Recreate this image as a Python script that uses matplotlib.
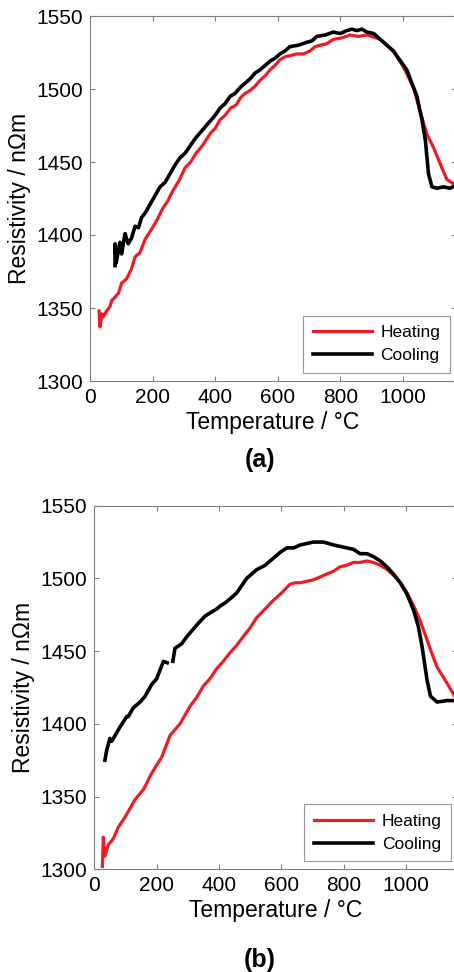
#!/usr/bin/env python3
""" resistivity vs temperature, heating and cooling, two panels """
import matplotlib.pyplot as plt

plt.rcParams['font.family'] = ['Liberation Sans', 'DejaVu Sans']

nan = float('nan')

# panel (a)
heat_a_t = [29, 32, 38, 43, 53, 64, 69, 91, 101, 117, 133, 144, 160, 176, 200, 216, 232,
            248, 264, 284, 304, 322, 339, 355, 371, 386, 400, 416, 432, 450, 467, 481, 496,
            512, 528, 544, 560, 575, 591, 607, 623, 642, 661, 682, 703, 720, 736, 757, 778,
            805, 832, 858, 885, 928, 970, 1002, 1034, 1055, 1077, 1098, 1119, 1141, 1170]
heat_a_r = [1348, 1337, 1346, 1344, 1348, 1351, 1355, 1360, 1367, 1370, 1377, 1385, 1388,
            1397, 1405, 1411, 1418, 1423, 1430, 1437, 1446, 1450, 1456, 1460, 1465, 1470,
            1473, 1479, 1482, 1487, 1489, 1494, 1497, 1499, 1502, 1506, 1509, 1513, 1516,
            1520, 1522, 1523, 1524, 1524, 1526, 1529, 1530, 1531, 1534, 1535, 1537, 1536,
            1537, 1534, 1526, 1515, 1501, 1485, 1469, 1460, 1449, 1438, 1434]
cool_a_t = [80, 80, 84, 91, 96, 101, 112, 122, 133, 144, 155, 165, 176, 192, 208, 224, 240,
            256, 272, 288, 304, 320, 336, 352, 368, 384, 400, 416, 432, 448, 464, 480, 496,
            512, 528, 543, 559, 575, 591, 607, 623, 639, 666, 693, 710, 725, 752, 778, 800,
            821, 837, 853, 869, 885, 907, 928, 970, 1013, 1045, 1061, 1072, 1082, 1093,
            1110, 1130, 1150, 1170]
cool_a_r = [1379, 1394, 1381, 1390, 1395, 1387, 1401, 1394, 1398, 1406, 1405, 1412, 1415,
            1421, 1427, 1433, 1436, 1442, 1448, 1453, 1456, 1461, 1466, 1470, 1474, 1478,
            1482, 1487, 1490, 1495, 1497, 1501, 1504, 1507, 1511, 1513, 1516, 1519, 1521,
            1524, 1526, 1529, 1530, 1532, 1533, 1536, 1537, 1539, 1538, 1540, 1541, 1540,
            1541, 1539, 1538, 1534, 1526, 1513, 1495, 1479, 1465, 1442, 1433, 1432, 1433,
            1432, 1434]

# panel (b)
heat_b_t = [26, 29, 34, 45, 61, 77, 99, 131, 158, 184, 216, 243, 275, 307, 328, 350, 371,
            393, 414, 436, 457, 478, 500, 521, 548, 575, 601, 628, 645, 661, 682, 703, 725,
            746, 768, 789, 810, 832, 853, 875, 896, 918, 940, 961, 983, 1004, 1025, 1046,
            1079, 1100, 1132, 1165]
heat_b_r = [1302, 1322, 1309, 1317, 1321, 1329, 1336, 1348, 1355, 1366, 1377, 1392, 1400,
            1412, 1418, 1426, 1431, 1438, 1443, 1449, 1454, 1460, 1466, 1473, 1479, 1485,
            1490, 1496, 1497, 1497, 1498, 1499, 1501, 1503, 1505, 1508, 1509, 1511, 1511,
            1512, 1511, 1509, 1506, 1502, 1497, 1490, 1481, 1471, 1451, 1439, 1428, 1416]
cool_b_t = [34, 40, 50, 56, 72, 83, 104, 109, 125, 147, 163, 184, 200, 222, 234, 243, 252,
            259, 280, 297, 313, 329, 355, 377, 393, 404, 425, 457, 489, 521, 548, 575, 597,
            618, 640, 661, 682, 703, 719, 735, 752, 768, 789, 810, 832, 853, 875, 896, 918,
            939, 960, 982, 1004, 1025, 1040, 1052, 1068, 1079, 1100, 1132, 1165]
cool_b_r = [1375, 1382, 1390, 1388, 1394, 1398, 1405, 1405, 1411, 1415, 1419, 1427, 1431,
            1443, 1442, nan, 1443, 1452, 1455, 1460, 1464, 1468, 1474, 1477, 1479, 1481,
            1484, 1490, 1500, 1506, 1509, 1514, 1518, 1521, 1521, 1523, 1524, 1525, 1525,
            1525, 1524, 1523, 1522, 1521, 1520, 1517, 1517, 1515, 1512, 1508, 1503, 1497,
            1489, 1478, 1467, 1453, 1430, 1419, 1415, 1416, 1416]

xticks = [0, 200, 400, 600, 800, 1000]
yticks = [1300, 1350, 1400, 1450, 1500, 1550]

fig = plt.figure(figsize=(4.54, 9.72), dpi=100)
ax_a = fig.add_axes([90 / 454, 1 - 381 / 972, 366 / 454, 365 / 972])
ax_b = fig.add_axes([94.3 / 454, 1 - 869.3 / 972, 363 / 454, 363.6 / 972])

panels = [
    (ax_a, heat_a_t, heat_a_r, cool_a_t, cool_a_r, 1170, '(a)', 460),
    (ax_b, heat_b_t, heat_b_r, cool_b_t, cool_b_r, 1165, '(b)', 960),
]

for ax, ht, hr, ct, cr, xmax, tag, tag_y in panels:
    ax.plot(ht, hr, color='#ee1c24', lw=2.3, label='Heating')
    ax.plot(ct, cr, color='black', lw=2.6, label='Cooling')
    ax.set_xlim(0, xmax)
    ax.set_ylim(1300, 1550)
    ax.set_xticks(xticks)
    ax.set_yticks(yticks)
    ax.tick_params(direction='in', length=3.5, width=0.8, color='#808080',
                   top=True, right=True, labelsize=15, pad=5)
    for s in ax.spines.values():
        s.set_color('#808080')
        s.set_linewidth(0.8)
    ax.set_xlabel('Temperature / °C', fontsize=16.5, labelpad=3)
    ax.set_ylabel('Resistivity / n\u03a9m', fontsize=16.5, labelpad=4)
    leg = ax.legend(loc='lower right', bbox_to_anchor=(0.983, 0.022), borderaxespad=0,
                    fontsize=12.5, fancybox=False, edgecolor='#808080', handlelength=3.4,
                    borderpad=0.55, labelspacing=0.45, handletextpad=0.5)
    leg.get_frame().set_linewidth(0.8)
    fig.text(260 / 454, 1 - tag_y / 972, tag, fontsize=18, fontweight='bold',
             ha='center', va='center')

fig.savefig('out.png', dpi=100)
